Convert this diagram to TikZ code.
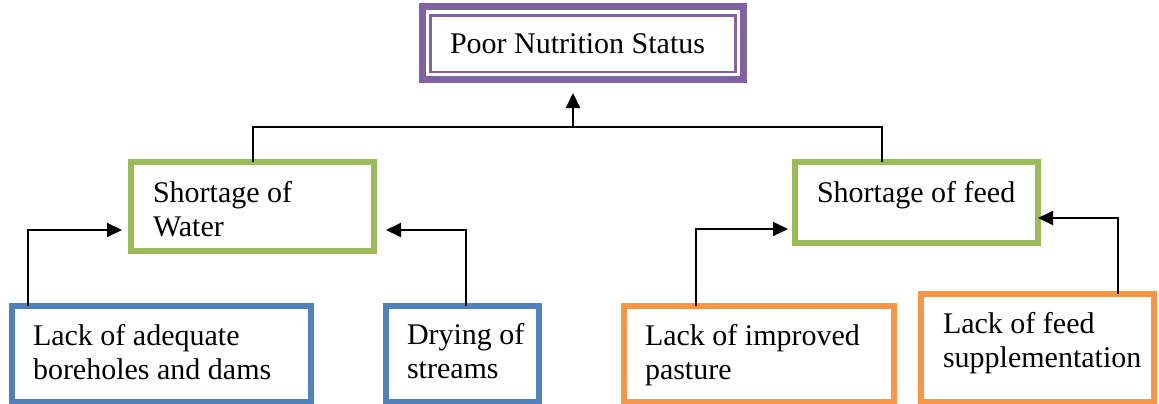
\documentclass[tikz,border=0pt]{standalone}
\usepackage{fontspec}
\setmainfont{Liberation Serif}
\usetikzlibrary{arrows.meta}
\definecolor{opurple}{HTML}{8064A2}
\definecolor{ogreen}{HTML}{9BBB59}
\definecolor{oblue}{HTML}{4F81BD}
\definecolor{oorange}{HTML}{F79646}
\tikzset{
  box/.style={draw=#1, line width=6pt, rectangle, inner sep=0pt, outer sep=0pt, fill=white},
  txt/.style={inner sep=0pt, outer sep=0pt, anchor=base west, font=\fontsize{30}{34.5}\selectfont},
  conn/.style={line width=2pt, draw=black},
  arr/.style={conn, -{Triangle[length=15pt,width=14pt]}},
}
\begin{document}
\begin{tikzpicture}[x=1pt,y=-1pt]
\useasboundingbox[fill=white] (0,0) rectangle (1159,404);
% top box
\node[box=opurple, line width=7pt, minimum width=321pt, minimum height=73pt] (top) at (583,43) {};
\node[draw=opurple, line width=2.5pt, rectangle, inner sep=0pt, outer sep=0pt, minimum width=305pt, minimum height=56.5pt] (topin) at (583,43.75) {};
\node[txt] (topT) at (450,53) {Poor Nutrition Status};
% middle boxes
\node[box=ogreen, minimum width=243pt, minimum height=89pt] (water) at (252.5,206.5) {};
\node[txt] (waterT) at (153,202) {\begin{tabular}[t]{@{}l@{}}Shortage of\\Water\end{tabular}};
\node[box=ogreen, minimum width=243pt, minimum height=81pt] (feed) at (916.5,202.5) {};
\node[txt] (feedT) at (817,202) {Shortage of feed};
% bottom boxes
\node[box=oblue, minimum width=299pt, minimum height=96pt] (adequate) at (161.5,354) {};
\node[txt] (adequateT) at (33,345) {\begin{tabular}[t]{@{}l@{}}Lack of adequate\\boreholes and dams\end{tabular}};
\node[box=oblue, minimum width=153pt, minimum height=96pt] (drying) at (462.5,354) {};
\node[txt] (dryingT) at (407,344) {\begin{tabular}[t]{@{}l@{}}Drying of\\streams\end{tabular}};
\node[box=oorange, minimum width=270pt, minimum height=96pt] (pasture) at (759,354) {};
\node[txt] (pastureT) at (645,345) {\begin{tabular}[t]{@{}l@{}}Lack of improved\\pasture\end{tabular}};
\node[box=oorange, minimum width=233pt, minimum height=108pt] (supp) at (1037.5,348) {};
\node[txt] (suppT) at (943,333) {\begin{tabular}[t]{@{}l@{}}Lack of feed\\supplementation\end{tabular}};
% connectors
\coordinate (jn) at (573,127);
\draw[conn] (water.north) |- (jn) -| ([xshift=-34.5pt]feed.north);
\draw[arr, shorten >=13.5pt] (jn) -- (jn |- top.south);
\draw[arr, shorten >=9pt] ([xshift=16pt]adequate.north west) |- ([yshift=-23.5pt]water.west);
\draw[arr, shorten >=12pt] ([xshift=80pt]drying.north west) |- ([yshift=-23.5pt]water.east);
\draw[arr, shorten >=7pt] ([xshift=72pt]pasture.north west) |- ([yshift=-26.5pt]feed.west);
\draw[arr] ([xshift=197pt]supp.north west) |- ([yshift=-15.5pt]feed.east);
\end{tikzpicture}
\end{document}
